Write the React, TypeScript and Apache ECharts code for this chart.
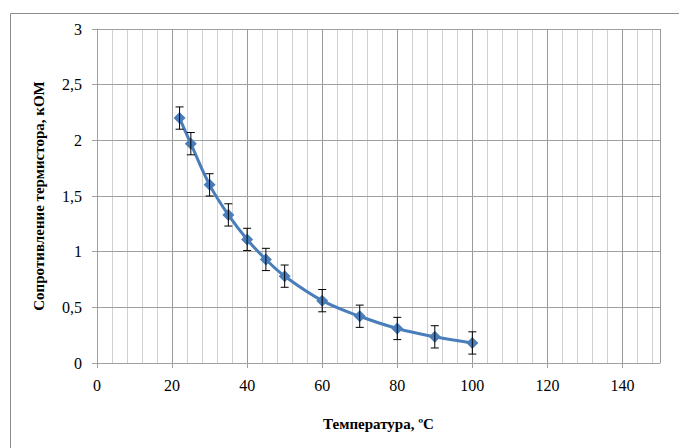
import React, { useEffect, useRef } from "react";
import * as echarts from "echarts";

const temperatures = [22, 25, 30, 35, 40, 45, 50, 60, 70, 80, 90, 100];
const resistance = [2.2, 1.97, 1.6, 1.33, 1.11, 0.93, 0.78, 0.56, 0.42, 0.31, 0.235, 0.18];
const errorValue = [0.1, 0.1, 0.1, 0.1, 0.1, 0.1, 0.1, 0.1, 0.1, 0.1, 0.1, 0.1];
const xTitle = "Температура, ºC";
const yTitle = "Сопротивление термистора, кОМ";

export default function App() {
  const ref = useRef<HTMLDivElement>(null);
  useEffect(() => {
    if (!ref.current) return;
    const chart = echarts.init(ref.current, undefined, { renderer: "svg" });
    const font = "Liberation Serif, DejaVu Serif, serif";
    const points = temperatures.map((t, i) => [t, resistance[i]]);
    const errData = temperatures.map((t, i) => [t, resistance[i] - errorValue[i], resistance[i] + errorValue[i]]);
    chart.setOption({
      animation: false,
      backgroundColor: "#ffffff",
      textStyle: { fontFamily: font },
      graphic: [
        {
          type: "rect",
          left: 8,
          top: 11,
          shape: { width: 720, height: 480 },
          style: { fill: "none", stroke: "#8c8c8c", lineWidth: 1 },
          silent: true,
        },
      ],
      grid: { left: 97, right: 19, top: 29, bottom: 85 },
      xAxis: [
        {
          type: "value",
          min: 0,
          max: 150,
          interval: 20,
          z: 2,
          name: xTitle,
          nameLocation: "middle",
          nameGap: 53,
          nameTextStyle: { fontFamily: font, fontSize: 15, fontWeight: "bold", color: "#000" },
          axisLine: { show: true, lineStyle: { color: "#a0a0a0" } },
          axisTick: { show: true, length: 5, lineStyle: { color: "#a0a0a0" } },
          axisLabel: { fontFamily: font, fontSize: 16, color: "#000", margin: 14, showMaxLabel: false },
          splitLine: { show: true, lineStyle: { color: "#9a9a9a", width: 1 } },
        },
        {
          type: "value",
          min: 0,
          max: 150,
          interval: 4,
          position: "bottom",
          z: 0,
          axisLine: { show: false },
          axisTick: { show: false },
          axisLabel: { show: false },
          splitLine: { show: true, lineStyle: { color: "#d0d0d0", width: 1 } },
        },
      ],
      yAxis: {
        type: "value",
        min: 0,
        max: 3,
        interval: 0.5,
        z: 2,
        name: yTitle,
        nameLocation: "middle",
        nameGap: 51,
        nameTextStyle: { fontFamily: font, fontSize: 15, fontWeight: "bold", color: "#000" },
        axisLine: { show: true, lineStyle: { color: "#a0a0a0" } },
        axisTick: { show: true, length: 5, lineStyle: { color: "#a0a0a0" } },
        axisLabel: {
          fontFamily: font,
          fontSize: 16,
          color: "#000",
          margin: 15,
          formatter: (v: number) => String(v).replace(".", ","),
        },
        splitLine: { show: true, lineStyle: { color: "#a0a0a0", width: 1 } },
      },
      series: [
        {
          type: "line",
          xAxisIndex: 0,
          data: points,
          smooth: 0.4,
          symbol: "diamond",
          symbolSize: 12,
          lineStyle: { color: "#4a7ebb", width: 3 },
          itemStyle: { color: "#4a7ebb" },
          z: 3,
        },
        {
          type: "custom",
          xAxisIndex: 0,
          data: errData,
          z: 4,
          renderItem: (params: any, api: any) => {
            const x = api.value(0);
            const lo = api.coord([x, api.value(1)]);
            const hi = api.coord([x, api.value(2)]);
            const half = 4;
            const style = { stroke: "#000", lineWidth: 1 };
            return {
              type: "group",
              children: [
                { type: "line", shape: { x1: lo[0], y1: lo[1], x2: hi[0], y2: hi[1] }, style },
                { type: "line", shape: { x1: lo[0] - half, y1: lo[1], x2: lo[0] + half, y2: lo[1] }, style },
                { type: "line", shape: { x1: hi[0] - half, y1: hi[1], x2: hi[0] + half, y2: hi[1] }, style },
              ],
            };
          },
        },
      ],
    });
    return () => chart.dispose();
  }, []);
  return (
    <div
      ref={ref}
      style={{ position: "fixed", left: 0, top: 0, width: 679, height: 448, background: "#fff" }}
    />
  );
}
